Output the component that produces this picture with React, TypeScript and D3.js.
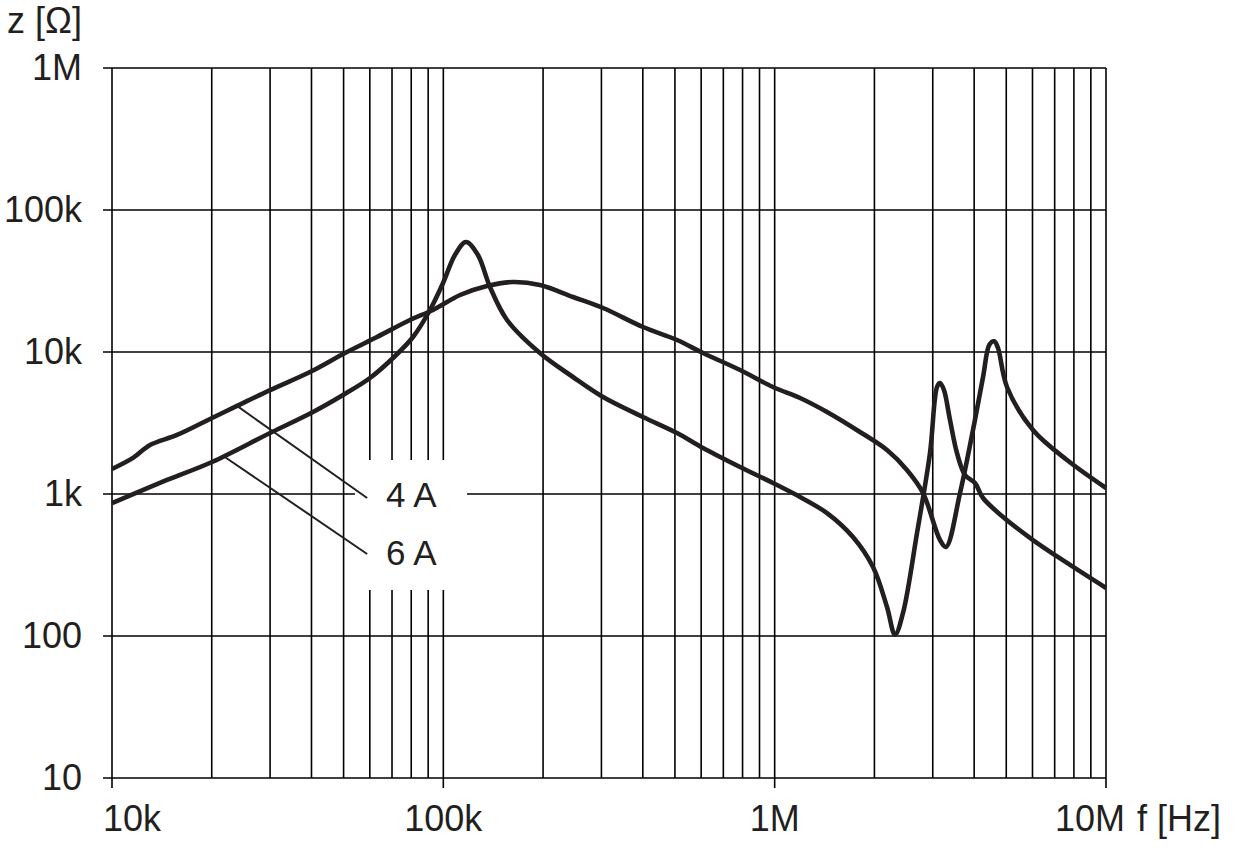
import React from 'react';
import * as d3 from 'd3';

// tick values and labels
const freqTicks = [1e4, 1e5, 1e6, 1e7];
const freqTickLabels = ['10k', '100k', '1M', '10M'];
const zTicks = [10, 100, 1e3, 1e4, 1e5, 1e6];
const zTickLabels = ['10', '100', '1k', '10k', '100k', '1M'];

// impedance curves, [f (Hz), z (Ohm)]
const series4A: [number, number][] = [
  [10000, 1500], [11570, 1795], [13020, 2213], [15710, 2604], [20040, 3428],
  [23840, 4170], [29990, 5395], [39590, 7225], [50500, 9840], [63070, 12750],
  [79320, 16800], [93070, 19760], [112300, 25200], [135500, 29160], [162300, 31120],
  [195700, 29630], [246200, 24400], [303400, 20410], [400500, 15000], [507300, 12150],
  [607800, 9840], [786200, 7464], [988500, 5669], [1193000, 4743], [1439000, 3780],
  [1809000, 2733], [2183000, 2041], [2507000, 1476], [2804000, 1016], [3155000, 474],
  [3290000, 424], [3626000, 1016], [3968000, 2822], [4255000, 6668], [4450000, 11300],
  [4600000, 11900], [4721000, 10670], [5026000, 5669], [6021000, 2822], [7627000, 1735],
  [10000000, 1102],
];

const series6A: [number, number][] = [
  [10000, 864], [14660, 1255], [20040, 1680], [29990, 2689], [40430, 3780],
  [49800, 4980], [60060, 6562], [70500, 9073], [81000, 12750], [91150, 19760],
  [99800, 30610], [108400, 48190], [117100, 59520], [127200, 48190], [138300, 28690],
  [155700, 16800], [195700, 9840], [246200, 6668], [303400, 4820], [400500, 3486],
  [507300, 2689], [607800, 2109], [786200, 1549], [988500, 1195], [1193000, 953],
  [1439000, 734], [1723000, 498], [1981000, 306], [2183000, 160], [2308000, 102],
  [2439000, 145], [2689000, 531], [2943000, 1944], [3090000, 5669], [3155000, 6049],
  [3243000, 5395], [3382000, 3319], [3550000, 1944], [3754000, 1361], [4023000, 1195],
  [4255000, 937], [4890000, 689], [6021000, 474], [7627000, 327], [10000000, 218],
];

// curve labels: leader from a point on the curve to the label, in data units
const curveLabels = [
  { text: '4 A', from: [23840, 4170], to: [58900, 937], at: [67100, 809] },
  { text: '6 A', from: [21900, 1822], to: [58900, 378], at: [67100, 316] },
];
// white box behind the labels that breaks the grid
const labelBox = { f: [54100, 117900], z: [211, 1735] };

const W = 1239;
const H = 848;
const FONT = '"Liberation Sans", Arial, Helvetica, sans-serif';
const INK = '#231f20';

export default function App() {
  const x = d3.scaleLog().domain([1e4, 1e7]).range([112, 1106]);
  const y = d3.scaleLog().domain([10, 1e6]).range([778, 68]);

  const minorF = x.ticks().filter((t) => !freqTicks.includes(t));

  const line = d3
    .line<[number, number]>()
    .x((d) => x(d[0]))
    .y((d) => y(d[1]))
    .curve(d3.curveCatmullRom.alpha(0.5));

  const [x0, x1] = x.range();
  const [yBottom, yTop] = y.range();

  return (
    <div style={{ position: 'absolute', left: 0, top: 0 }}>
      <svg width={W} height={H} style={{ display: 'block', background: '#fff' }}>
        <rect width={W} height={H} fill="#fff" />
        {/* minor verticals */}
        {minorF.map((f) => (
          <line key={'m' + f} x1={x(f)} x2={x(f)} y1={yTop} y2={yBottom} stroke="#000" strokeWidth={1.6} />
        ))}
        {/* decade verticals, with ticks below the axis */}
        {freqTicks.map((f) => (
          <line key={'d' + f} x1={x(f)} x2={x(f)} y1={yTop} y2={yBottom + 10} stroke="#000" strokeWidth={1.6} />
        ))}
        {/* horizontals */}
        {zTicks.map((z) => (
          <line key={'h' + z} x1={x0 - 9} x2={x1} y1={y(z)} y2={y(z)} stroke="#000" strokeWidth={1.6} />
        ))}

        {/* label box */}
        <rect
          x={x(labelBox.f[0])}
          y={y(labelBox.z[1])}
          width={x(labelBox.f[1]) - x(labelBox.f[0])}
          height={y(labelBox.z[0]) - y(labelBox.z[1])}
          fill="#fff"
        />

        {/* curves */}
        <path d={line(series4A) || ''} fill="none" stroke={INK} strokeWidth={4.6} strokeLinejoin="round" />
        <path d={line(series6A) || ''} fill="none" stroke={INK} strokeWidth={4.6} strokeLinejoin="round" />

        {/* curve labels */}
        {curveLabels.map((c) => (
          <g key={c.text}>
            <line
              x1={x(c.from[0])}
              y1={y(c.from[1])}
              x2={x(c.to[0])}
              y2={y(c.to[1])}
              stroke={INK}
              strokeWidth={2}
            />
            <text x={x(c.at[0])} y={y(c.at[1])} fontFamily={FONT} fontSize={35} fill={INK}>
              {c.text}
            </text>
          </g>
        ))}

        {/* y tick labels */}
        {zTicks.map((z, i) => (
          <text key={'yl' + z} x={82} y={y(z) + 12} textAnchor="end" fontFamily={FONT} fontSize={36} fill={INK}>
            {zTickLabels[i]}
          </text>
        ))}
        <text x={7} y={33} fontFamily={FONT} fontSize={36} fill={INK}>
          z [Ω]
        </text>

        {/* x tick labels */}
        {freqTicks.map((f, i) => {
          const first = i === 0;
          const last = i === freqTicks.length - 1;
          return (
            <text
              key={'xl' + f}
              x={first ? x(f) - 9 : last ? x(f) + 19 : x(f)}
              y={831}
              textAnchor={first ? 'start' : last ? 'end' : 'middle'}
              fontFamily={FONT}
              fontSize={36}
              fill={INK}
            >
              {freqTickLabels[i]}
            </text>
          );
        })}
        <text x={1137} y={831} fontFamily={FONT} fontSize={36} fill={INK}>
          f [Hz]
        </text>
      </svg>
    </div>
  );
}
